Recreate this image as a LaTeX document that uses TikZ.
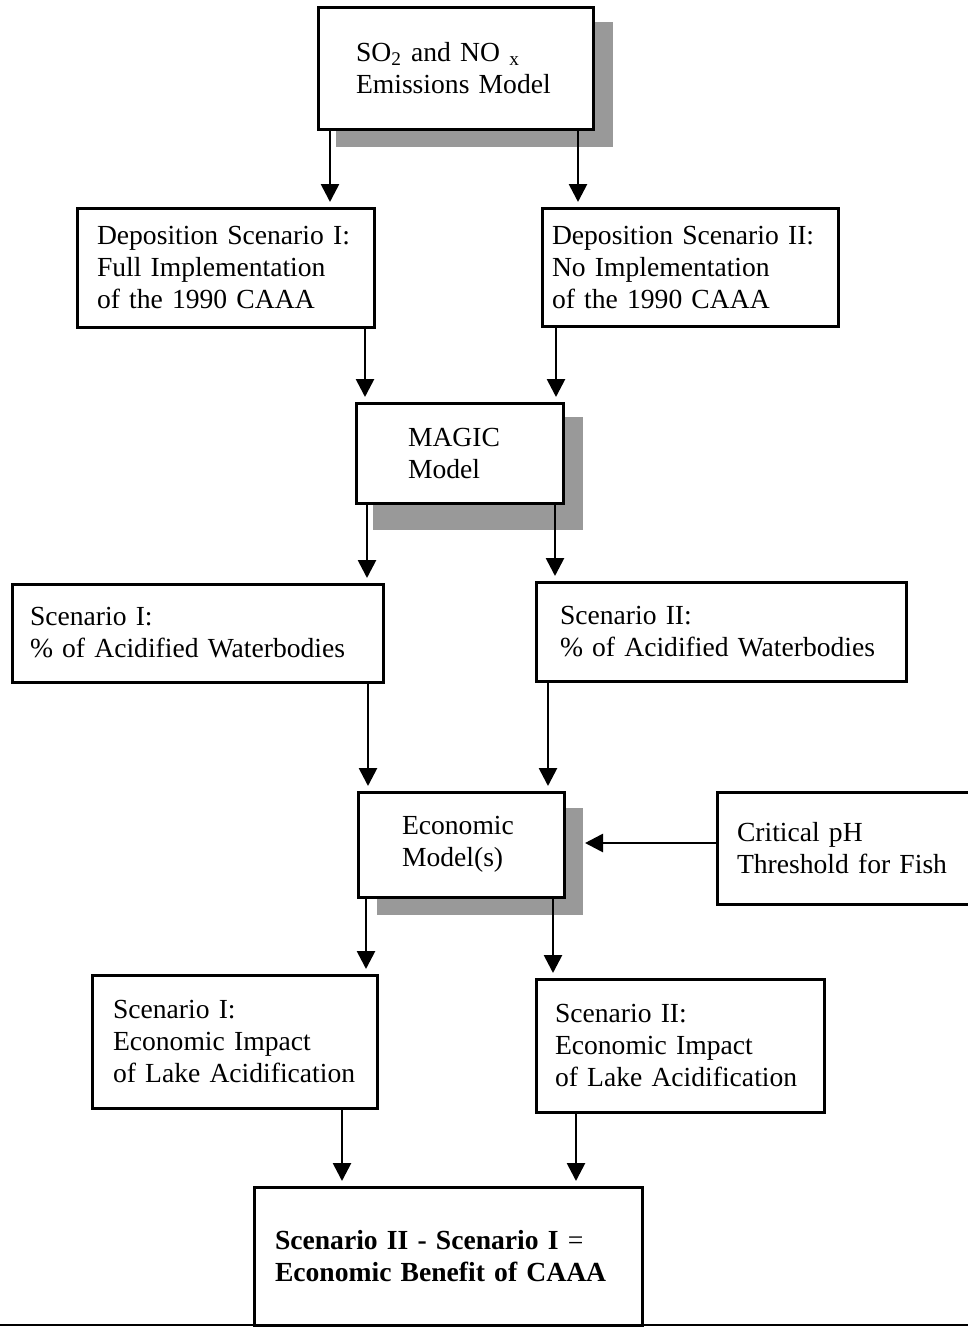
\documentclass[tikz,border=0pt]{standalone}
\usepackage{fontspec}
\setmainfont{Liberation Serif}
\usetikzlibrary{arrows.meta,calc,backgrounds}

\begin{document}
\begin{tikzpicture}[
  x=0.5pt, y=-0.5pt,
  every node/.style = {font=\fontsize{13.8}{16}\selectfont},
  box/.style = {draw, line width=1.5pt, fill=white, anchor=north west,
    align=left, inner ysep=0pt, outer sep=0pt},
  boxshadow/.style = {fill=black!40},
  arr/.style = {-{Triangle[length=9pt,width=9pt]}, line width=1.35pt,
    shorten >=3pt},
]
\useasboundingbox (0,0) rectangle (968,1328);

% ── Models and scenario boxes ─────────────────────────────────────────────
\node[box, minimum height=61pt, text width=99.5pt, inner xsep=19pt]
  (emis) at (318,7) {SO\textsubscript{2} and NO \textsubscript{x}\\Emissions Model};

\node[box, minimum height=59.5pt, text width=128.5pt, inner xsep=10pt]
  (depA) at (77,208) {Deposition Scenario I:\\Full Implementation\\of the 1990 CAAA};
\node[box, minimum height=59pt, text width=138pt, inner xsep=5pt]
  (depB) at (542,208) {Deposition Scenario II:\\No Implementation\\of the 1990 CAAA};

\node[box, minimum height=50pt, text width=51.5pt, inner xsep=26pt]
  (magic) at (356,403) {MAGIC\\Model};

\node[box, minimum height=49pt, text width=167.5pt, inner xsep=9pt]
  (pctA) at (12,584) {Scenario I:\\\% of Acidified Waterbodies};
\node[box, minimum height=49.5pt, text width=161pt, inner xsep=12pt]
  (pctB) at (536,582) {Scenario II:\\\% of Acidified Waterbodies};

\node[box, minimum height=52.5pt, text width=59pt, inner xsep=22pt]
  (econ) at (358,792) {Economic\\Model(s)};
\node[box, minimum height=56pt, text width=107.5pt, inner xsep=10pt]
  (crit) at (717,792) {Critical pH\\Threshold for Fish};

\node[box, minimum height=66.5pt, text width=121.5pt, inner xsep=10.5pt]
  (scA) at (92,975) {Scenario I:\\Economic Impact\\of Lake Acidification};
\node[box, minimum height=66.5pt, text width=125pt, inner xsep=9.5pt]
  (scB) at (536,979) {Scenario II:\\Economic Impact\\of Lake Acidification};

\node[box, minimum height=69pt, text width=173pt, inner xsep=10.5pt]
  (bene) at (254,1187)
  {\textbf{Scenario II - Scenario I} =\\\textbf{Economic Benefit of CAAA}};

% ── Drop shadows ──────────────────────────────────────────────────────────
\begin{scope}[on background layer]
  \fill[boxshadow] ($(emis.north west)+(18,15)$) rectangle ($(emis.south east)+(20,18)$);
  \fill[boxshadow] ($(magic.north west)+(17,14)$) rectangle ($(magic.south east)+(20,27)$);
  \fill[boxshadow] ($(econ.north west)+(19,16)$) rectangle ($(econ.south east)+(19,18)$);
\end{scope}

% ── Arrows ────────────────────────────────────────────────────────────────
\draw[arr] ($(emis.south west)+(12,0)$) -- ($(depA.north west)+(253,0)$);
\draw[arr] ($(emis.south west)+(260,0)$) -- ($(depB.north west)+(36,0)$);

\draw[arr] ($(depA.south west)+(288,0)$) -- ($(magic.north west)+(9,0)$);
\draw[arr] ($(depB.south west)+(14,0)$) -- ($(magic.north west)+(200,0)$);

\draw[arr] ($(magic.south west)+(11,0)$) -- ($(pctA.north west)+(355,0)$);
\draw[arr] ($(magic.south west)+(199,0)$) -- ($(pctB.north west)+(19,0)$);

\draw[arr] ($(pctA.south west)+(356,0)$) -- ($(econ.north west)+(10,0)$);
\draw[arr] ($(pctB.south west)+(12,0)$) -- ($(econ.north west)+(190,0)$);
\draw[arr] ($(crit.north west)+(0,51)$) -- ($(econ.north east)+(15,51)$);

\draw[arr] ($(econ.south west)+(8,0)$) -- ($(scA.north west)+(274,0)$);
\draw[arr] ($(econ.south west)+(195,0)$) -- ($(scB.north west)+(17,0)$);

\draw[arr] ($(scA.south west)+(250,0)$) -- ($(bene.north west)+(88,0)$);
\draw[arr] ($(scB.south west)+(40,0)$) -- ($(bene.north west)+(322,0)$);

% ── Rule under the chart ──────────────────────────────────────────────────
\draw[line width=1pt] (0,1325) -- (968,1325);

\end{tikzpicture}
\end{document}
